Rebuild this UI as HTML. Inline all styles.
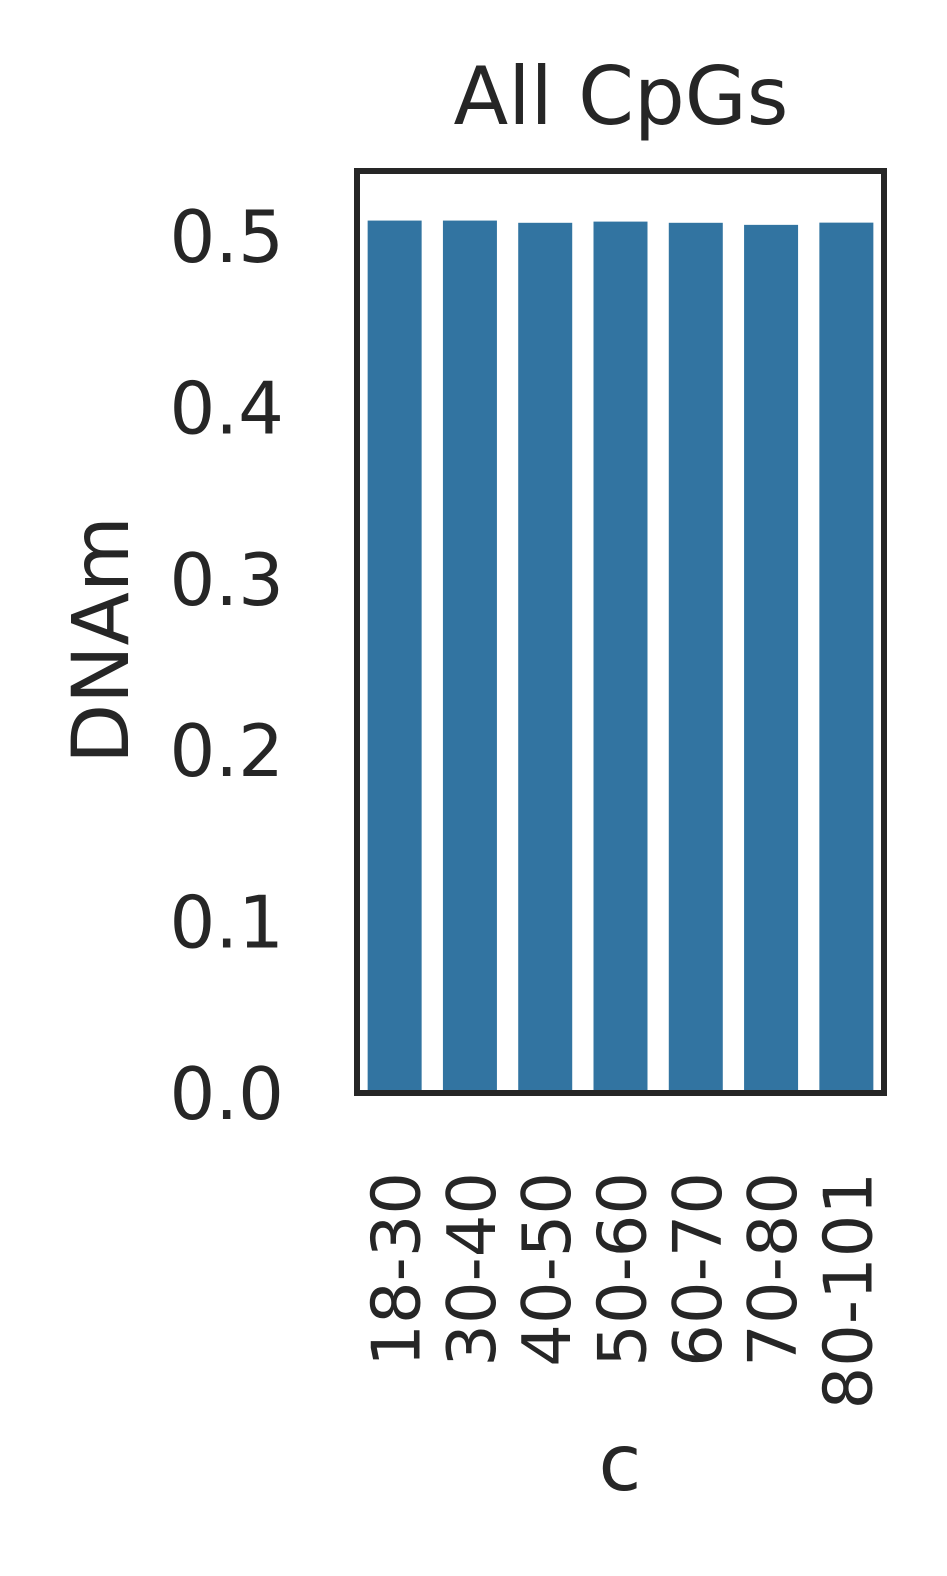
<!DOCTYPE html>
<html><head><meta charset="utf-8"><style>
html,body{margin:0;padding:0;background:#fff;}
svg text{font-family:"DejaVu Sans","Liberation Sans",sans-serif;fill:#262626;}
</style></head><body>
<svg id="chart" width="947" height="1571" viewBox="0 0 947 1571" xmlns="http://www.w3.org/2000/svg">
<text x="621" y="124" font-size="80" text-anchor="middle">All CpGs</text>
<text transform="translate(128,640) rotate(-90)" font-size="78" text-anchor="middle">DNAm</text>
<text x="620" y="1490" font-size="78" text-anchor="middle">c</text>
<g id="bars"></g>
<g id="yticks"></g>
<g id="xticks"></g>
<rect x="357" y="171" width="527" height="922" fill="none" stroke="#262626" stroke-width="6"/>
</svg>
<script>
const categories = ["18-30","30-40","40-50","50-60","60-70","70-80","80-101"];
const values = [0.509, 0.509, 0.5077, 0.5084, 0.5077, 0.5065, 0.5078];
const yTicks = [0.0, 0.1, 0.2, 0.3, 0.4, 0.5];
const yTickLabels = ["0.0","0.1","0.2","0.3","0.4","0.5"];

const NS = "http://www.w3.org/2000/svg";
const left = 357, right = 884, y0 = 1093, pxPerUnit = 1714;
function yScale(v){ return y0 - v * pxPerUnit; }
const step = (right - left) / categories.length;
function xCenter(i){ return left + (i + 0.5) * step; }
const barW = 54;

const gb = document.getElementById('bars');
values.forEach((v, i) => {
  const r = document.createElementNS(NS, 'rect');
  
  
  r.setAttribute('x', xCenter(i) - barW / 2);
  r.setAttribute('y', yScale(v));
  r.setAttribute('width', barW);
  r.setAttribute('height', yScale(0) - yScale(v));
  r.setAttribute('fill', '#3274a1');
  gb.appendChild(r);
});

const gy = document.getElementById('yticks');
yTicks.forEach((t, i) => {
  const tx = document.createElementNS(NS, 'text');
  
  
  tx.setAttribute('x', 284);
  tx.setAttribute('y', yScale(t) + 26);
  tx.setAttribute('font-size', '72');
  tx.setAttribute('text-anchor', 'end');
  tx.textContent = yTickLabels[i];
  gy.appendChild(tx);
});

const gx = document.getElementById('xticks');
categories.forEach((c, i) => {
  const tx = document.createElementNS(NS, 'text');
  
  
  const x = xCenter(i) + 25, y = 1172;
  tx.setAttribute('transform', 'translate(' + x + ',' + y + ') rotate(-90)');
  tx.setAttribute('font-size', '67');
  tx.setAttribute('text-anchor', 'end');
  tx.textContent = c;
  gx.appendChild(tx);
});
</script>
</body></html>
